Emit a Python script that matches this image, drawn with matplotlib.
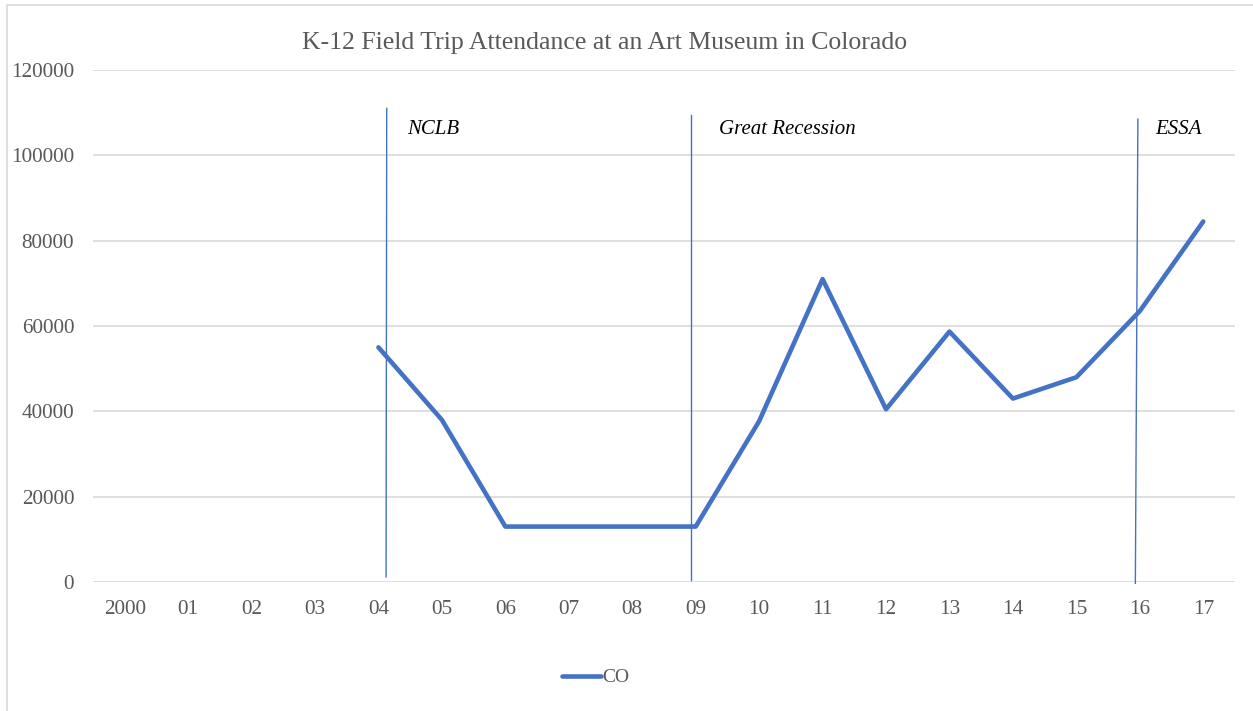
import numpy as np
import matplotlib.pyplot as plt
from matplotlib.lines import Line2D
from matplotlib.patches import Rectangle

# Datos del gráfico
years = ["2000", "01", "02", "03", "04", "05", "06", "07", "08", "09",
         "10", "11", "12", "13", "14", "15", "16", "17"]
attendance = [np.nan, np.nan, np.nan, np.nan, 55000, 38000, 13000, 13000, 13000,
              13000, 37700, 71000, 40500, 58700, 43000, 48000, 63500, 84500]

# Eventos marcados con líneas verticales (posición en categorías, y arriba, y abajo)
events = ["NCLB", "Great Recession", "ESSA"]
event_x_top = [4.13, 8.92, 15.97]
event_x_bottom = [4.12, 8.92, 15.93]
event_y_top = [111000, 109500, 108500]
event_y_bottom = [1200, 500, -300]
event_label_x = [4.45, 9.37, 16.24]

plt.rcParams['font.family'] = ['Liberation Serif', 'DejaVu Serif']

fig = plt.figure(figsize=(12.53, 7.11), dpi=100)
ax = fig.add_axes([0.0742, 0.1814, 0.9114, 0.7201])

# Borde del área del gráfico
fig.patches.append(Rectangle((7 / 1253, -0.01), 1.1, 1 - 5 / 711 + 0.01, transform=fig.transFigure,
                             fill=False, edgecolor='#D9D9D9', linewidth=1.2))

x = np.arange(len(years))
ax.plot(x, attendance, color='#4472C4', linewidth=3.3, solid_capstyle='round',
        solid_joinstyle='round', zorder=3)

for name, xt, xb, yt, yb, lx in zip(events, event_x_top, event_x_bottom,
                                    event_y_top, event_y_bottom, event_label_x):
    ax.plot([xb, xt], [yb, yt], color='#4472C4', linewidth=1.0, zorder=4, clip_on=False)
    ax.text(lx, 106000, name, style='italic', fontsize=15, color='black',
            va='center', ha='left')

ax.set_xlim(-0.5, len(years) - 0.5)
ax.set_ylim(0, 120000)
ax.set_yticks(np.arange(0, 120001, 20000))
ax.set_xticks(x)
ax.set_xticklabels(years)
ax.grid(axis='y', color='#D9D9D9', linewidth=1.2)
ax.set_axisbelow(True)
for s in ax.spines.values():
    s.set_visible(False)
ax.tick_params(length=0, labelsize=15.3, labelcolor='#595959')
ax.tick_params(axis='y', pad=13.5)
ax.tick_params(axis='x', pad=13)

fig.text(0.4822, 0.940, "K-12 Field Trip Attendance at an Art Museum in Colorado",
         ha='center', va='center', fontsize=18.5, color='#595959')

handle = Line2D([], [], color='#4472C4', linewidth=3.3, solid_capstyle='round')
fig.legend([handle], ["CO"], loc='center', bbox_to_anchor=(0.4755, 0.047), frameon=False,
           fontsize=14, labelcolor='#595959', handlelength=2.0, handletextpad=0.05)

fig.savefig("out.png", dpi=100)
